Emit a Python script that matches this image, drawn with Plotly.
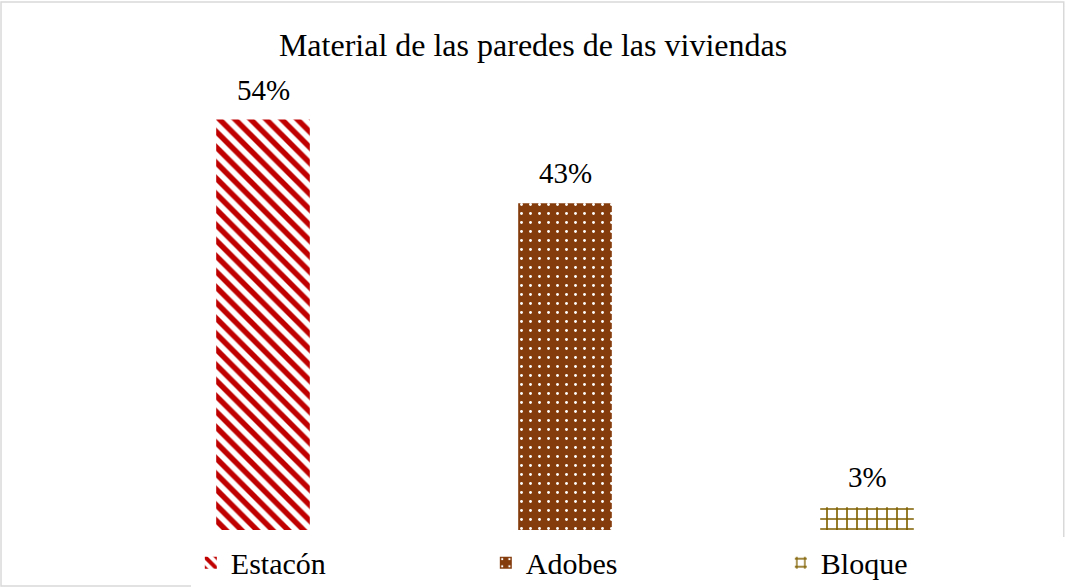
import plotly.graph_objects as go

materials = ["Estacón", "Adobes", "Bloque"]
percentages = [54, 43, 3]
label_texts = ["54%", "43%", "3%"]

FONT = "Liberation Serif"

PATTERNS = {
    "Estacón": dict(shape="\\", fgcolor="#C00000", bgcolor="#FFFFFF", size=11, solidity=0.5, fgopacity=1),
    "Adobes": dict(shape=".", fgcolor="#FFFFFF", bgcolor="#843C0C", size=9, solidity=0.08, fgopacity=1),
    "Bloque": dict(shape="+", fgcolor="#7F6000", bgcolor="#FFFFFF", size=10, solidity=0.3, fgopacity=1),
}
BASE = {"Estacón": "#C00000", "Adobes": "#843C0C", "Bloque": "#7F6000"}

fig = go.Figure()
for name, val in zip(materials, percentages):
    fig.add_trace(
        go.Bar(
            x=[name],
            y=[val],
            name=name,
            marker=dict(color=BASE[name], pattern=PATTERNS[name], line=dict(width=0)),
            hoverinfo="x+y",
        )
    )

# data labels sit a little above each bar
for name, val, lab in zip(materials, percentages, label_texts):
    fig.add_annotation(
        x=name, y=val, text=lab, showarrow=False,
        yanchor="bottom", yshift=12,
        font=dict(size=29, color="#000000", family=FONT),
    )

# light chart border, as in the spreadsheet chart
fig.add_shape(
    type="rect", xref="paper", yref="paper",
    x0=-0.1225, x1=1.0505, y0=-0.1228, y1=1.158,
    line=dict(color="#D9D9D9", width=1.5), fillcolor="rgba(0,0,0,0)", layer="below",
)

fig.update_layout(
    title=dict(
        text="Material de las paredes de las viviendas",
        x=0.5, xanchor="center", y=0.923, yanchor="middle",
        font=dict(size=32, color="#000000", family=FONT),
    ),
    barmode="relative",
    bargap=0.69,
    xaxis=dict(showticklabels=False, showgrid=False, zeroline=False, showline=False, ticks=""),
    yaxis=dict(range=[0, 60], visible=False),
    legend=dict(
        orientation="h", x=0.087, xanchor="left",
        yref="container", y=0.043, yanchor="middle",
        font=dict(size=30, color="#000000", family=FONT),
        entrywidth=250, itemwidth=30,
    ),
    plot_bgcolor="#FFFFFF",
    paper_bgcolor="#FFFFFF",
    margin=dict(l=112, r=48, t=74, b=58, autoexpand=False),
    width=1066,
    height=588,
)

fig.write_html(
    "out.html",
    config={"displayModeBar": False},
    post_script="document.body.style.margin='0';",
)
